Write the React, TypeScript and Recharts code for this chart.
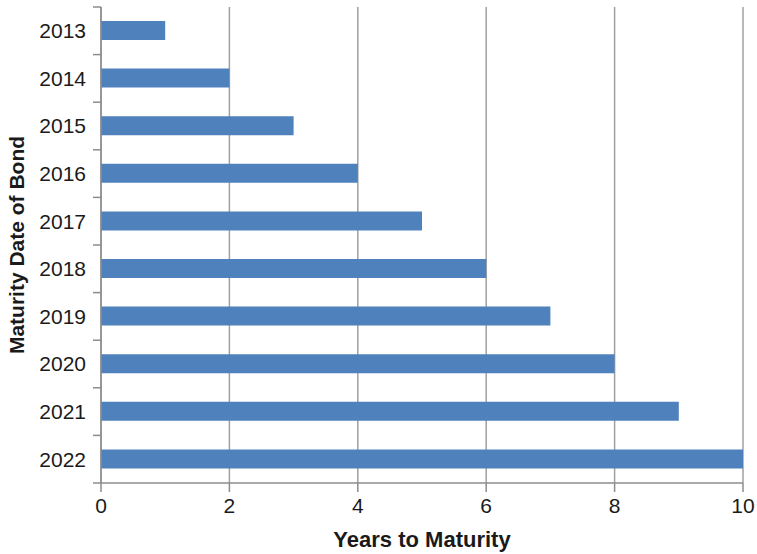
import React from 'react';
import { BarChart, Bar, XAxis, YAxis, CartesianGrid, Label } from 'recharts';

const years = ['2013', '2014', '2015', '2016', '2017', '2018', '2019', '2020', '2021', '2022'];
const yearsToMaturity = [1, 2, 3, 4, 5, 6, 7, 8, 9, 10];
const xTicks = [0, 2, 4, 6, 8, 10];

const data = years.map((year, i) => ({ year, value: yearsToMaturity[i] }));

const FONT = 'Liberation Sans, Arial, Helvetica, sans-serif';
const AXIS = '#8c8c8c';
const TICK_SIZE = 8;
const TICK_GAP = 7;

const YTitle = (props: any) => {
  const { viewBox } = props;
  const cx = 24;
  const cy = viewBox.y + viewBox.height / 2;
  return (
    <text
      x={cx}
      y={cy}
      transform={`rotate(-90, ${cx}, ${cy})`}
      textAnchor="middle"
      fontFamily={FONT}
      fontSize={21}
      fontWeight="bold"
      fill="#1a1a1a"
    >
      Maturity Date of Bond
    </text>
  );
};

// label in the middle of the band, tick marks on the band edges
const YearTick = (props: any) => {
  const { x, y, payload, index, visibleTicksCount } = props;
  const half = payload.offset || 0;
  const lx = x + TICK_SIZE + TICK_GAP;
  const edges = [y - half];
  if (index === visibleTicksCount - 1) edges.push(y + half);
  return (
    <g>
      {edges.map((ey, i) => (
        <line key={i} x1={lx - TICK_SIZE} x2={lx} y1={ey} y2={ey} stroke={AXIS} strokeWidth={1.5} />
      ))}
      <text x={x} y={y} dy="0.355em" textAnchor="end" fill="#1a1a1a" fontSize={21} fontFamily={FONT}>
        {payload.value}
      </text>
    </g>
  );
};

const App: React.FC = () => {
  return (
    <div style={{ position: 'absolute', left: 0, top: 0, background: '#fff' }}>
      <BarChart
        width={757}
        height={554}
        data={data}
        layout="vertical"
        margin={{ top: 7, right: 14, bottom: 0, left: 0 }}
        barSize={19}
      >
        <CartesianGrid horizontal={false} vertical stroke="#a0a0a0" strokeWidth={1.5} />
        <XAxis
          type="number"
          dataKey="value"
          domain={[0, 10]}
          ticks={xTicks}
          interval={0}
          height={71}
          stroke={AXIS}
          strokeWidth={1.5}
          tickSize={9}
          tickMargin={6}
          tick={{ fill: '#1a1a1a', fontSize: 21, fontFamily: FONT }}
        >
          <Label
            value="Years to Maturity"
            position="insideBottom"
            offset={7}
            fill="#1a1a1a"
            fontSize={22}
            fontWeight="bold"
            fontFamily={FONT}
          />
        </XAxis>
        <YAxis
          type="category"
          dataKey="year"
          width={101}
          stroke={AXIS}
          strokeWidth={1.5}
          tickLine={false}
          tickSize={TICK_SIZE}
          tickMargin={TICK_GAP}
          interval={0}
          tick={<YearTick />}
        >
          <Label content={<YTitle />} />
        </YAxis>
        <Bar dataKey="value" fill="#4f81bd" isAnimationActive={false} />
      </BarChart>
    </div>
  );
};

export default App;
